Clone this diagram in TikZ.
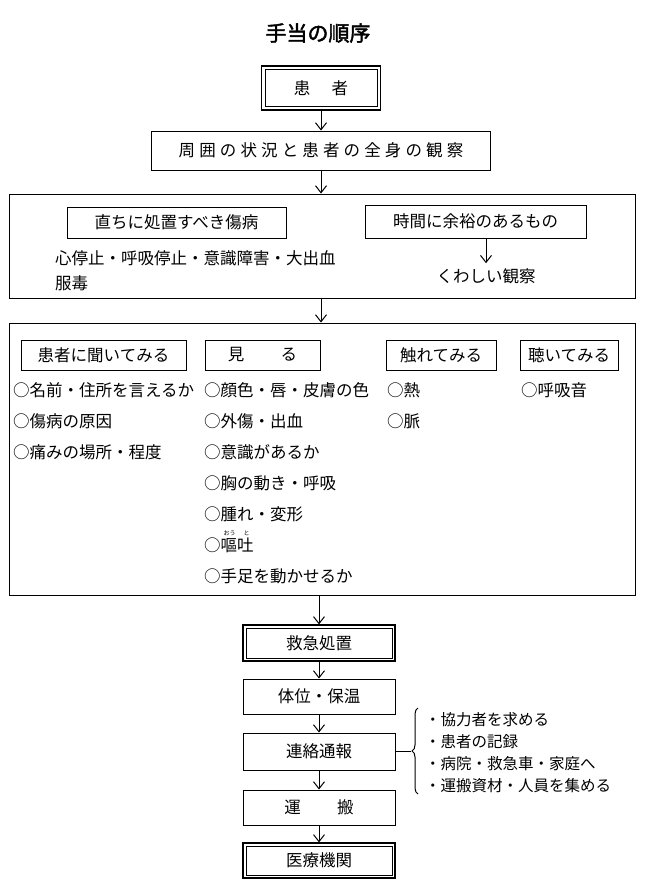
\documentclass[tikz,border=0pt]{standalone}
\usepackage{fontspec}
\setmainfont{Noto Sans CJK JP}
\newfontfamily\titlefont{Noto Sans CJK JP}[FakeBold=2]
\usetikzlibrary{arrows.meta,decorations.pathreplacing}
\newcommand{\fsz}{\fontsize{16.5}{18}\selectfont}
\newcommand{\fsb}{\fontsize{15.5}{17}\selectfont}
\tikzset{
  box/.style={draw, line width=1pt, inner sep=0pt, font=\fsz},
  dbox/.style={draw, line width=1.2pt, inner sep=0pt, font=\fsz},
  inner/.style={line width=0.8pt},
  arr/.style={-{Straight Barb[length=7pt,width=11pt,line width=1pt]}, line width=1pt},
  txt/.style={anchor=west, inner sep=0pt, font=\fsz},
  btxt/.style={anchor=west, inner sep=0pt, font=\fsb},
  ruby/.style={inner sep=0pt, font=\fontsize{6}{6}\selectfont},
}
\begin{document}
\begin{tikzpicture}[x=1pt,y=-1pt]
\useasboundingbox (0,0) rectangle (646,895);
% title
\node[inner sep=0pt, font=\titlefont\fontsize{21}{24}\selectfont] (title) at (318,33) {手当の順序};
% top flow
\node[dbox, minimum width=119, minimum height=44] (patient) at (321,88) {患\hspace{1.3em}者};
\draw[inner] ([shift={(4,4)}]patient.north west) rectangle ([shift={(-4,-4)}]patient.south east);
\node[box, minimum width=339, minimum height=39] (obs) at (321,150.5) {\addfontfeature{LetterSpace=25}周囲の状況と患者の全身の観察};
\draw[arr] (patient) -- (obs);
% box 1
\node[box, minimum width=626, minimum height=104] (b1) at (322,246) {};
\draw[arr] (obs) -- (obs.south |- b1.north);
\node[box, minimum width=219, minimum height=31] (s1) at (176.5,222.5) {直ちに処置すべき傷病};
\node[box, minimum width=221, minimum height=33] (s2) at (475.5,221.5) {時間に余裕のあるもの};
\node[txt] (t1) at (55,258) {心停止・呼吸停止・意識障害・大出血};
\node[txt] (t2) at (55,283) {服毒};
\node[inner sep=0pt, font=\fsz] (detail) at (486,276) {くわしい観察};
\draw[arr, shorten >=5pt] (s2.south -| detail.north) -- (detail.north);
% box 2
\node[box, minimum width=626, minimum height=272] (b2) at (322,459) {};
\draw[arr] (b1.south -| obs.south) -- (b2.north -| obs.south);
\node[box, minimum width=165, minimum height=30] (q1) at (103.5,355) {患者に聞いてみる};
\node[box, minimum width=115, minimum height=30] (q2) at (262.5,355) {見\hspace{2.2em}る};
\node[box, minimum width=110, minimum height=30] (q3) at (441,355) {触れてみる};
\node[box, minimum width=98, minimum height=30] (q4) at (569,355) {聴いてみる};
% column 1
\node[txt] (a1) at (13,390) {○名前・住所を言えるか};
\node[txt] (a2) at (13,421) {○傷病の原因};
\node[txt] (a3) at (13,452) {○痛みの場所・程度};
% column 2
\node[txt] (c1) at (204,390) {○顔色・唇・皮膚の色};
\node[txt] (c2) at (204,421) {○外傷・出血};
\node[txt] (c3) at (204,452) {○意識があるか};
\node[txt] (c4) at (204,483) {○胸の動き・呼吸};
\node[txt] (c5) at (204,514) {○腫れ・変形};
\node[txt] (c6) at (204,545) {○嘔吐};
\node[ruby] (r1) at (229.5,533) {おう};
\node[ruby] (r2) at (246.5,533) {と};
\node[txt] (c7) at (204,576) {○手足を動かせるか};
% column 3
\node[txt] (d1) at (387,390) {○熱};
\node[txt] (d2) at (387,421) {○脈};
% column 4
\node[txt] (e1) at (521,390) {○呼吸音};
% bottom flow
\node[dbox, minimum width=152, minimum height=36] (rescue) at (319,643) {救急処置};
\draw[inner] ([shift={(3.5,3.5)}]rescue.north west) rectangle ([shift={(-3.5,-3.5)}]rescue.south east);
\node[box, minimum width=152, minimum height=35] (pos) at (319,696.5) {体位・保温};
\draw[arr] (b2.south -| rescue.north) -- (rescue.north);
\draw[arr] (rescue) -- (pos);
\node[box, minimum width=152, minimum height=37] (report) at (319,751.5) {連絡通報};
\draw[arr] (pos) -- (report);
\node[box, minimum width=152, minimum height=35] (carry) at (319,807.5) {運\hspace{2.2em}搬};
\draw[arr] (report) -- (carry);
\node[dbox, minimum width=152, minimum height=35] (hosp) at (319,860.5) {医療機関};
\draw[inner] ([shift={(3.5,3.5)}]hosp.north west) rectangle ([shift={(-3.5,-3.5)}]hosp.south east);
\draw[arr] (carry) -- (hosp);
% brace
\coordinate (brtip) at (411,751.5);
\draw[line width=1pt, decorate, decoration={brace, amplitude=6pt, aspect=0.5}] (418,794) -- (418,708);
\draw[line width=1pt] (report.east) -- (brtip);
\node[btxt] (f1) at (425,720) {・協力者を求める};
\node[btxt] (f2) at (425,742) {・患者の記録};
\node[btxt] (f3) at (425,764) {・病院・救急車・家庭へ};
\node[btxt] (f4) at (425,786) {・運搬資材・人員を集める};
\end{tikzpicture}
\end{document}
